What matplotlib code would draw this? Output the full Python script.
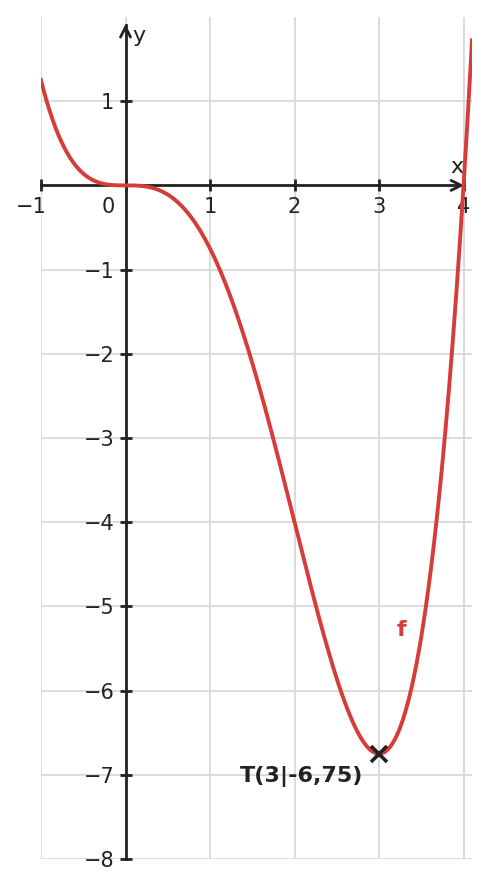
import numpy as np
import matplotlib.pyplot as plt

# f(x) = 1/4 x^4 - x^3
coeffs = [0.25, -1, 0, 0, 0]
x_range = (-1, 4.1)
x_ticks = [-1, 0, 1, 2, 3, 4]
y_ticks = [-8, -7, -6, -5, -4, -3, -2, -1, 1]
tp = (3, -6.75)
tp_label = 'T(3|-6,75)'

RED = '#d63d39'
DARK = '#222222'

plt.rcParams['font.family'] = 'DejaVu Sans'

fig = plt.figure(figsize=(4.89, 8.89), dpi=100)
ax = fig.add_axes([41/489, 30/889, 431/489, 842/889])
ax.set_xlim(-1, 4.1)
ax.set_ylim(-8, 2.0)

ax.set_xticks(x_ticks)
ax.set_yticks(y_ticks)
ax.grid(True, color='#d9d9d9', lw=1.3)
ax.set_axisbelow(True)

for s in ['top', 'right']:
    ax.spines[s].set_visible(False)
ax.spines['left'].set_position(('data', 0))
ax.spines['bottom'].set_position(('data', 0))
ax.spines['left'].set_bounds(-8, 1.9)
ax.spines['bottom'].set_bounds(-1, 4.0)
for s in ['left', 'bottom']:
    ax.spines[s].set_color(DARK)
    ax.spines[s].set_linewidth(2)

ax.tick_params(direction='inout', length=9, width=2, color=DARK,
               labelsize=15, labelcolor=DARK)
ax.set_xticklabels(['', '', '1', '2', '3', '4'])
ax.set_yticklabels(['−8', '−7', '−6', '−5', '−4', '−3', '−2', '−1', '1'])
# -1 and 0 on the x axis sit slightly shifted
ax.text(-0.94, -0.14, '−1', ha='right', va='top', fontsize=15, color=DARK)
ax.text(-0.2, -0.14, '0', ha='center', va='top', fontsize=15, color=DARK)

# arrows on axes
ax.annotate('', xy=(4.04, 0), xytext=(3.9, 0),
            arrowprops=dict(arrowstyle='->', color=DARK, lw=2, mutation_scale=18))
ax.annotate('', xy=(0, 1.95), xytext=(0, 1.8),
            arrowprops=dict(arrowstyle='->', color=DARK, lw=2, mutation_scale=18))
ax.text(3.92, 0.1, 'x', ha='center', va='bottom', fontsize=16, color=DARK)
ax.text(0.08, 1.77, 'y', ha='left', va='center', fontsize=16, color=DARK)

xs = np.linspace(x_range[0], x_range[1], 600)
ax.plot(xs, np.polyval(coeffs, xs), color=RED, lw=2.8, clip_on=True, zorder=3)

ax.plot(*tp, marker='x', color=DARK, ms=11, mew=2.6, zorder=4)
ax.text(2.81, -7.02, tp_label, ha='right', va='center', fontsize=16,
        fontweight='bold', color=DARK)
ax.text(3.27, -5.28, 'f', ha='center', va='center', fontsize=16,
        fontweight='bold', color=RED)

fig.savefig('out.png', dpi=100)
